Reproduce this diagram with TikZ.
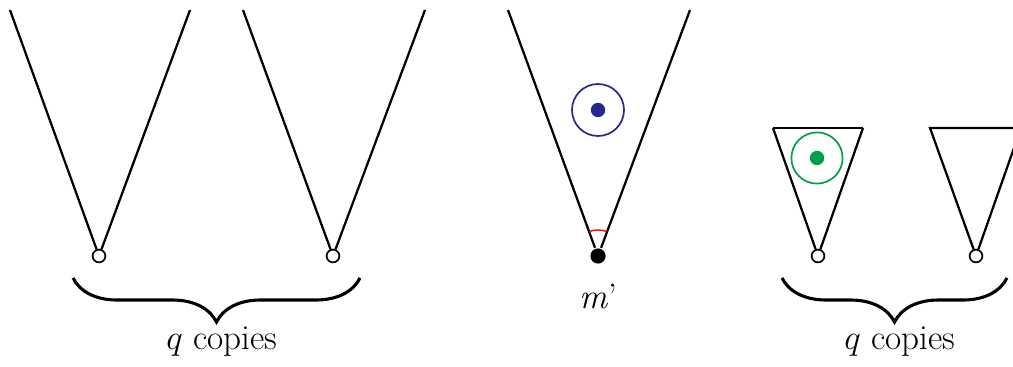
\documentclass[tikz,border=0pt]{standalone}
\usetikzlibrary{positioning, decorations.pathreplacing}
\definecolor{dotblue}{RGB}{40,40,140}
\definecolor{dotgreen}{RGB}{0,160,75}
\begin{document}
\begin{tikzpicture}[x=0.025cm, y=-0.025cm, line width=1.6pt,
    tip/.style={circle, draw, fill=white, line width=1.2pt, inner sep=0pt, minimum size=0.32cm},
    root/.style={circle, fill=black, inner sep=0pt, minimum size=0.38cm},
    ring/.style={circle, draw, line width=1.2pt, inner sep=0pt, minimum size=1.3cm},
    seed/.style={circle, inner sep=0pt, minimum size=0.36cm},
    copybrace/.style={decorate, decoration={brace, mirror, amplitude=1.1cm, aspect=0.5}, line width=2.2pt},
    lbl/.style={font=\fontsize{25}{30}\selectfont}]
    \clip (0,0) rectangle (1013,367);

    % left copies
    \node[tip] (t1) at (99,256) {};
    \node[tip] (t2) at (333,256) {};
    \coordinate (a1) at (10,10);  \coordinate (b1) at (190,10);
    \coordinate (a2) at (243,10); \coordinate (b2) at (425,10);
    \draw (a1) -- (t1) -- (b1);
    \draw (a2) -- (t2) -- (b2);

    % middle cone
    \node[root] (m) at (598,256) {};
    \coordinate (am) at (508,10); \coordinate (bm) at (690,10);
    \draw (am) -- (m) -- (bm);
    \draw[red, line width=1pt] (m.center) ++(69.5:0.65cm) arc (69.5:110.5:0.65cm);
    \node[ring, draw=dotblue] (ringm) at (598,110) {};
    \node[seed, fill=dotblue] (dotm) at (ringm) {};
    \node[lbl, below=0.55cm of m.center] (mlbl) {\textit{m}’};

    % right copies
    \node[tip] (t3) at (818,256) {};
    \node[tip] (t4) at (976,256) {};
    \coordinate (a3) at (773,128); \coordinate (b3) at (863,128);
    \coordinate (a4) at (930,128); \coordinate (b4) at (1021,128);
    \draw (a3) -- (t3) -- (b3);
    \draw (a3) -- (b3);
    \draw (b4) -- (a4) -- (t4) -- (b4);
    \node[ring, draw=dotgreen, minimum size=1.28cm] (ring3) at (817,158) {};
    \node[seed, fill=dotgreen] (dot3) at (ring3) {};

    % braces
    \coordinate (l1) at (73,278);  \coordinate (r1) at (360,278);
    \coordinate (l2) at (782,278); \coordinate (r2) at (1007,278);
    \draw[copybrace] (l1) -- (r1);
    \draw[copybrace] (l2) -- (r2);
    \node[lbl] (q1) at (222,342) {$q$ copies};
    \node[lbl] (q2) at (900,342) {$q$ copies};
\end{tikzpicture}
\end{document}
